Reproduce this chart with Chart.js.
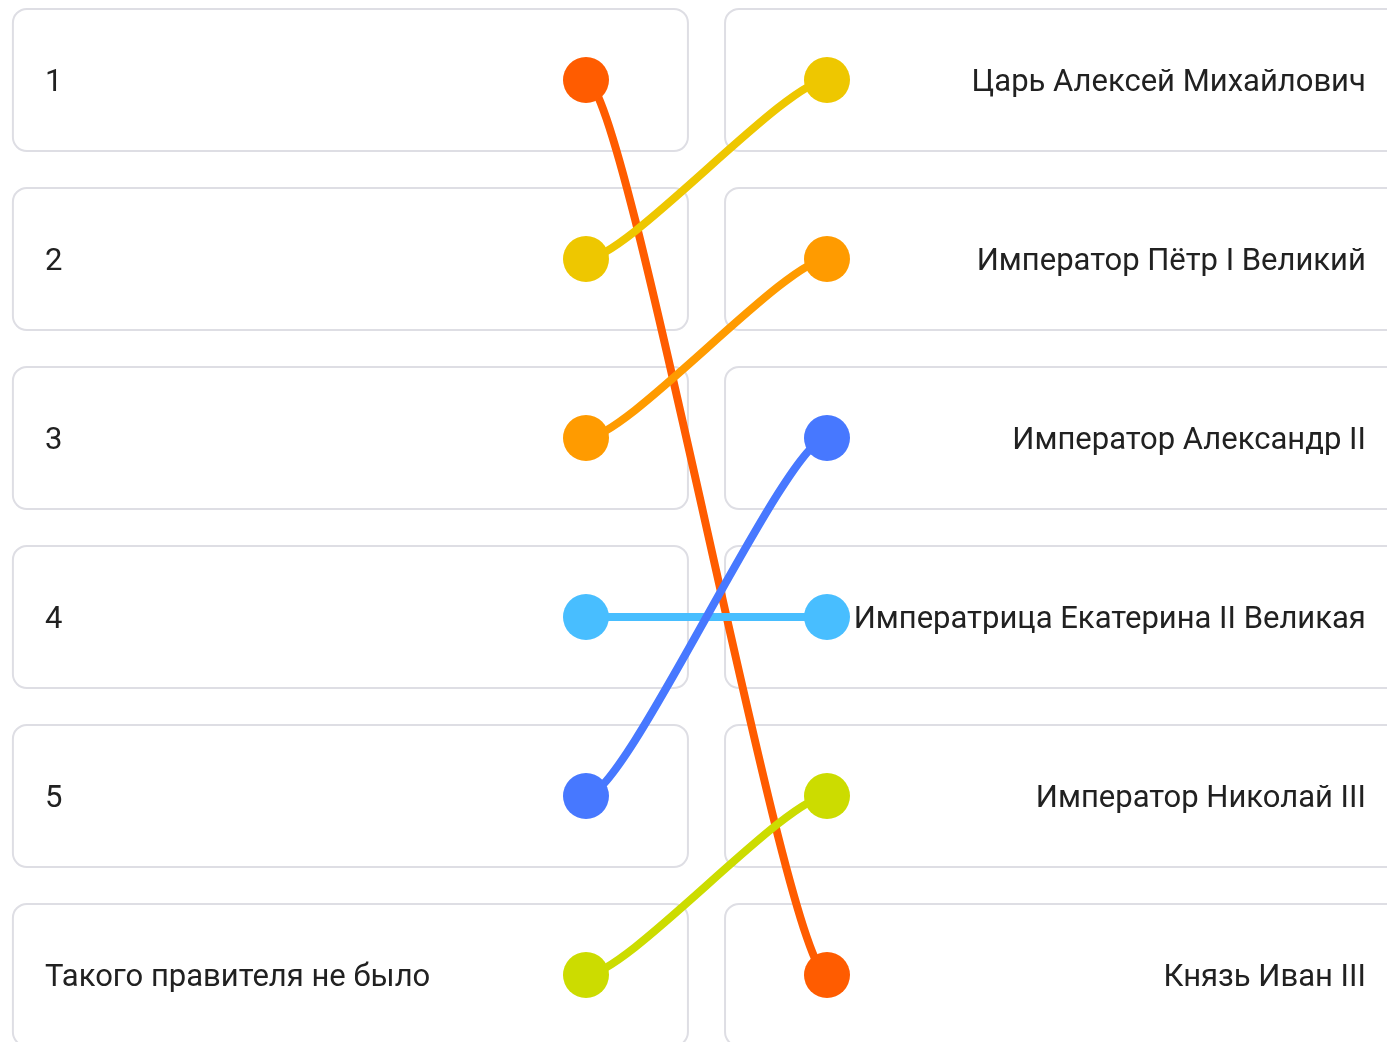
<!DOCTYPE html>
<html lang="ru">
<head>
<meta charset="UTF-8" />
<title>Сопоставление правителей</title>
<script src="https://cdn.jsdelivr.net/npm/chart.js@4"></script>
<style>
  html, body { margin: 0; padding: 0; background: #fff; overflow: hidden; }
</style>
</head>
<body>
<canvas id="myChart" width="1387" height="1042"></canvas>
<script>
  // left column labels, right column labels, and which right row each left row links to
  const leftLabels = ["1", "2", "3", "4", "5", "Такого правителя не было"];
  const rightLabels = [
    "Царь Алексей Михайлович",
    "Император Пётр I Великий",
    "Император Александр II",
    "Императрица Екатерина II Великая",
    "Император Николай III",
    "Князь Иван III",
  ];
  const matches = [5, 0, 1, 3, 2, 4];
  const colors = ["#FF5C00", "#EEC700", "#FF9B00", "#48BEFF", "#4778FF", "#CCDC00"];

  const rightColors = rightLabels.map((_, j) => colors[matches.indexOf(j)]);

  const FONT = "31px Roboto";

  function roundRect(ctx, x, y, w, h, r) {
    ctx.beginPath();
    ctx.moveTo(x + r, y);
    ctx.lineTo(x + w - r, y);
    ctx.arcTo(x + w, y, x + w, y + r, r);
    ctx.lineTo(x + w, y + h - r);
    ctx.arcTo(x + w, y + h, x + w - r, y + h, r);
    ctx.lineTo(x + r, y + h);
    ctx.arcTo(x, y + h, x, y + h - r, r);
    ctx.lineTo(x, y + r);
    ctx.arcTo(x, y, x + r, y, r);
    ctx.closePath();
  }

  const matchPlugin = {
    id: "matchBoxes",
    beforeDatasetsDraw(chart) {
      const ctx = chart.ctx;
      const xs = chart.scales.x;
      const ys = chart.scales.y;
      const half = 0.397;
      ctx.save();
      // boxes
      ctx.strokeStyle = "#dedee4";
      ctx.lineWidth = 2;
      leftLabels.forEach((_, i) => {
        const x0 = xs.getPixelForValue(-2.378);
        const x1 = xs.getPixelForValue(0.423);
        const y0 = ys.getPixelForValue(i - half);
        const y1 = ys.getPixelForValue(i + half);
        roundRect(ctx, x0, y0, x1 - x0, y1 - y0, 14);
        ctx.stroke();
      });
      rightLabels.forEach((_, j) => {
        const x0 = xs.getPixelForValue(0.577);
        const x1 = xs.getPixelForValue(3.45);
        const y0 = ys.getPixelForValue(j - half);
        const y1 = ys.getPixelForValue(j + half);
        roundRect(ctx, x0, y0, x1 - x0, y1 - y0, 14);
        ctx.stroke();
      });

      // labels (nudged so the capitals sit on the row centre)
      ctx.fillStyle = "#212121";
      ctx.font = FONT;
      ctx.textBaseline = "middle";
      ctx.textAlign = "left";
      leftLabels.forEach((t, i) => {
        ctx.fillText(t, xs.getPixelForValue(-2.2445), ys.getPixelForValue(i) + 3);
      });
      ctx.textAlign = "right";
      rightLabels.forEach((t, j) => {
        ctx.fillText(t, xs.getPixelForValue(3.236), ys.getPixelForValue(j) + 3);
      });

      // connecting curves
      ctx.lineWidth = 8;
      ctx.lineCap = "round";
      matches.forEach((j, i) => {
        const ax = xs.getPixelForValue(0), ay = ys.getPixelForValue(i);
        const bx = xs.getPixelForValue(1), by = ys.getPixelForValue(j);
        const off = (bx - ax) * 0.17;
        ctx.strokeStyle = colors[i];
        ctx.beginPath();
        ctx.moveTo(ax, ay);
        ctx.bezierCurveTo(ax + off, ay, bx - off, by, bx, by);
        ctx.stroke();
      });
      ctx.restore();
    },
  };

  const config = {
    type: "scatter",
    data: {
      datasets: [
        {
          label: "left",
          data: leftLabels.map((_, i) => ({ x: 0, y: i })),
          pointBackgroundColor: colors,
          pointBorderWidth: 0,
          pointRadius: 23,
          pointHoverRadius: 23,
          clip: false,
        },
        {
          label: "right",
          data: rightLabels.map((_, j) => ({ x: 1, y: j })),
          pointBackgroundColor: rightColors,
          pointBorderWidth: 0,
          pointRadius: 23,
          pointHoverRadius: 23,
          clip: false,
        },
      ],
    },
    options: {
      responsive: false,
      animation: false,
      layout: { padding: 0, autoPadding: false },
      plugins: {
        legend: { display: false },
        tooltip: { enabled: false },
      },
      scales: {
        x: { type: "linear", display: false, min: -2.4315, max: 3.3237 },
        y: { type: "linear", display: false, reverse: true, min: -0.4469, max: 5.3743 },
      },
    },
    plugins: [matchPlugin],
  };

  const myChart = new Chart(document.getElementById("myChart"), config);
</script>
</body>
</html>
